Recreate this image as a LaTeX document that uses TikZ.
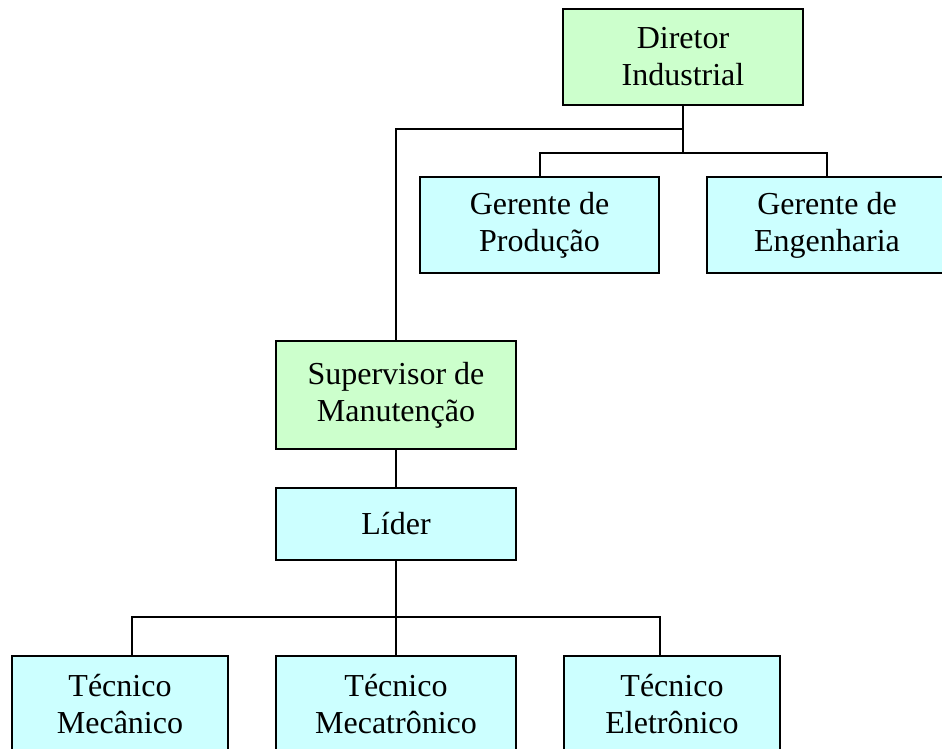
\documentclass[tikz,border=0pt]{standalone}
\usepackage{fontspec}
\setmainfont{Liberation Serif}
\definecolor{verde}{HTML}{CCFFCC}
\definecolor{ciano}{HTML}{CCFFFF}
\tikzset{
  cargo/.style={draw=black,line width=2pt,align=center,inner sep=0pt,
    font=\fontsize{32}{37}\selectfont,minimum width=240pt,minimum height=96pt},
  gbox/.style={cargo,fill=verde},
  cbox/.style={cargo,fill=ciano},
  liga/.style={line width=2pt}
}
\begin{document}
\begin{tikzpicture}[x=1pt,y=-1pt]

\useasboundingbox (0,0) rectangle (942,749);

\node[gbox] (dir) at (683,57) {Diretor\\Industrial};
\node[cbox,minimum width=239pt] (gprod) at (539.5,225) {Gerente de\\Produção};
\node[cbox] (geng) at (827,225) {Gerente de\\Engenharia};

\node[gbox,minimum height=108pt] (sup) at (396,395) {Supervisor de\\Manutenção};
\node[cbox,minimum height=72pt] (lider) at (396,524) {Líder};

\node[cbox,minimum width=216pt] (tmec) at (120,704) {Técnico\\Mecânico};
\node[cbox] (tmtr) at (396,704) {Técnico\\Mecatrônico};
\node[cbox,minimum width=216pt] (tele) at (672,704) {Técnico\\Eletrônico};

\coordinate (jg) at (683,153);
\coordinate (js) at (683,129);
\coordinate (jt) at (396,617);

\draw[liga] (dir.south) -- (jg);
\draw[liga] (gprod.north) |- (jg) -| (geng.north);
\draw[liga] (sup.north) |- (js);
\draw[liga] (sup.south) -- (lider.north);
\draw[liga] (lider.south) -- (jt) -- (tmtr.north);
\draw[liga] ([xshift=12pt]tmec.north) |- (jt) -| ([xshift=-12pt]tele.north);

\end{tikzpicture}
\end{document}
